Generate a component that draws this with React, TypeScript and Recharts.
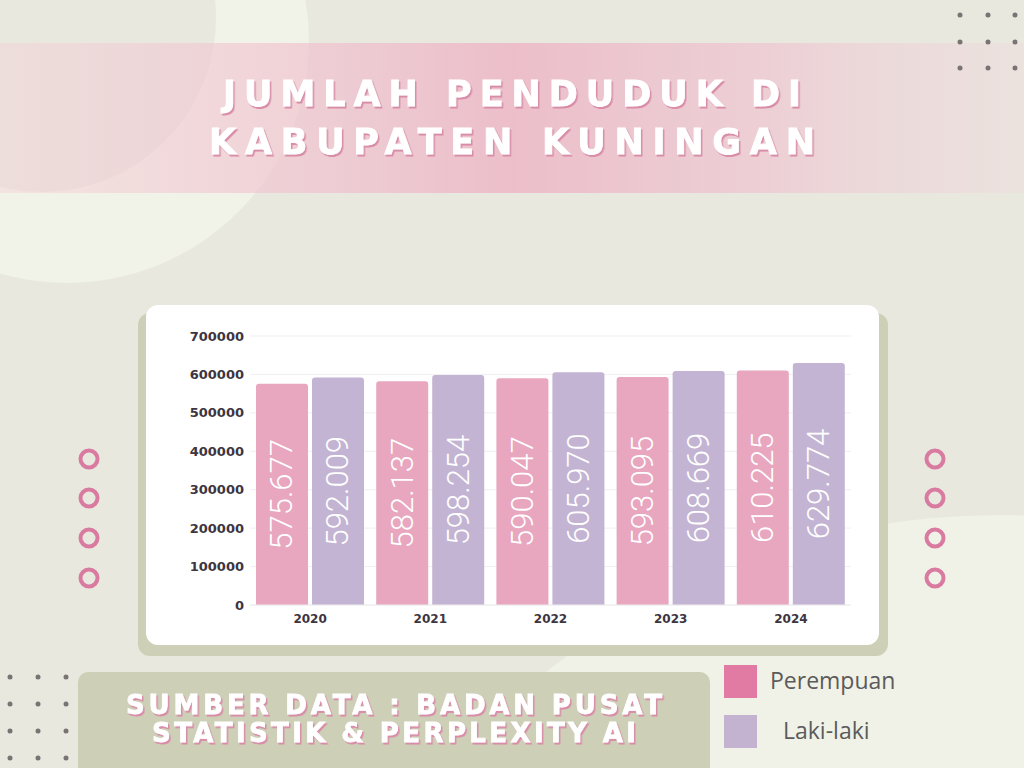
import { BarChart, Bar, XAxis, YAxis, CartesianGrid, LabelList } from 'recharts'

const years = ['2020', '2021', '2022', '2023', '2024']
const perempuan = [575677, 582137, 590047, 593095, 610225]
const lakiLaki = [592009, 598254, 605970, 608669, 629774]
const yTicks = [0, 100000, 200000, 300000, 400000, 500000, 600000, 700000]

const PINK = '#e8a6bf'
const PURPLE = '#c4b4d3'

const data = years.map((y, i) => ({ year: y, perempuan: perempuan[i], laki: lakiLaki[i] }))

const series = [
  { key: 'perempuan', name: 'Perempuan', fill: PINK, legend: '#e27ba4' },
  { key: 'laki', name: 'Laki-laki', fill: PURPLE, legend: '#c3b3d1' },
]

function fmtID(n: number) {
  return new Intl.NumberFormat('id-ID').format(n)
}

function VLabel(props: any) {
  const { x, y, width, height, value } = props
  const cx = x + width / 2
  const cy = y + height / 2
  return (
    <text
      x={cx}
      y={cy}
      fill="#fff"
      textAnchor="middle"
      dominantBaseline="central"
      transform={`rotate(-90 ${cx} ${cy})`}
      style={{ fontFamily: 'Roboto, sans-serif', fontWeight: 300, fontSize: 31 }}
    >
      {fmtID(value)}
    </text>
  )
}

const dotXs = [960, 988, 1015]
const dotYs = [15, 42, 68]
const dot2Xs = [10, 38, 66]
const dot2Ys = [677, 704, 731, 758]
const ringYs = [459, 498, 538, 578]

function ShadowText({ x, y, len, size, children }: any) {
  return (
    <text
      x={x}
      y={y}
      fill="#ffffff"
      stroke="#ffffff"
      strokeWidth={0.8}
      textAnchor="middle"
      textLength={len}
      lengthAdjust="spacing"
      filter="url(#pinkShadow)"
      style={{ fontFamily: 'DejaVu Sans, sans-serif', fontWeight: 700, fontSize: size }}
    >
      {children}
    </text>
  )
}

export default function App() {
  return (
    <div style={{ position: 'absolute', left: 0, top: 0, width: 1024, height: 768, overflow: 'hidden', background: '#e8e8df' }}>
      <svg width={1024} height={768} style={{ position: 'absolute', left: 0, top: 0 }}>
        <defs>
          <linearGradient id="band" x1="0" x2="1" y1="0" y2="0">
            <stop offset="0" stopColor="#f5c9d3" stopOpacity={0.35} />
            <stop offset="0.3" stopColor="#f0c3cf" stopOpacity={0.7} />
            <stop offset="0.5" stopColor="#ecbcc9" stopOpacity={0.95} />
            <stop offset="0.75" stopColor="#eec7d1" stopOpacity={0.75} />
            <stop offset="1" stopColor="#f0d6db" stopOpacity={0.35} />
          </linearGradient>
          <filter id="pinkShadow" x="-5%" y="-20%" width="110%" height="150%">
            <feDropShadow dx={1.5} dy={2} stdDeviation={0.3} floodColor="#d98ca8" floodOpacity={1} />
          </filter>
        </defs>
        <circle cx={67} cy={41} r={242} fill="#f1f2e8" />
        <circle cx={42} cy={18} r={174} fill="#e8e8df" />
        <circle cx={1000} cy={1250} r={735} fill="#f1f2e7" />
        <rect x={0} y={43} width={1024} height={150} fill="url(#band)" />
        {dotYs.map((y) => dotXs.map((x) => <circle key={`a${x}-${y}`} cx={x} cy={y} r={2.5} fill="#7a7373" />))}
        {dot2Ys.map((y) => dot2Xs.map((x) => <circle key={`b${x}-${y}`} cx={x} cy={y} r={2.5} fill="#7a7373" />))}
        {ringYs.map((y) => (
          <g key={y}>
            <circle cx={89} cy={y} r={8.5} fill="none" stroke="#d97aa0" strokeWidth={4} />
            <circle cx={935} cy={y} r={8.5} fill="none" stroke="#d97aa0" strokeWidth={4} />
          </g>
        ))}
        <ShadowText x={512} y={106} len={578} size={35}>JUMLAH PENDUDUK DI</ShadowText>
        <ShadowText x={512} y={154} len={606} size={35}>KABUPATEN KUNINGAN</ShadowText>
        <rect x={78} y={672} width={632} height={120} rx={10} fill="#cdcfb6" />
        <ShadowText x={394} y={714} len={536} size={26}>SUMBER DATA : BADAN PUSAT</ShadowText>
        <ShadowText x={394} y={742} len={484} size={26}>STATISTIK &amp; PERPLEXITY AI</ShadowText>
      </svg>

      <div style={{ position: 'absolute', left: 138, top: 313, width: 750, height: 343, borderRadius: 12, background: '#cdcfb6' }} />
      <div style={{ position: 'absolute', left: 146, top: 305, width: 733, height: 340, borderRadius: 12, background: '#ffffff' }}>
        <BarChart width={733} height={340} data={data} margin={{ top: 31, right: 28, left: 0, bottom: 10 }} barGap={4} barCategoryGap="5%">
          <CartesianGrid vertical={false} stroke="#efefef" />
          <XAxis
            dataKey="year"
            height={30}
            axisLine={{ stroke: '#eeeeee' }}
            tickLine={false}
            tickSize={0}
            tickMargin={9}
            tick={{ fontSize: 12, fontWeight: 700, fontFamily: 'DejaVu Sans, sans-serif', fill: '#3d3540' }}
          />
          <YAxis
            width={104}
            domain={[0, 700000]}
            ticks={yTicks}
            axisLine={false}
            tickLine={false}
            tickSize={0}
            tickMargin={6}
            tick={{ fontSize: 13, fontWeight: 700, fontFamily: 'DejaVu Sans, sans-serif', fill: '#3d3540' }}
          />
          {series.map((s) => (
            <Bar key={s.key} dataKey={s.key} name={s.name} fill={s.fill} radius={[3, 3, 0, 0]} isAnimationActive={false}>
              <LabelList dataKey={s.key} content={VLabel} />
            </Bar>
          ))}
        </BarChart>
      </div>

      {series.map((s, i) => (
        <div key={s.key} style={{ position: 'absolute', left: 724, top: 665 + i * 50, height: 33, display: 'flex', alignItems: 'center' }}>
          <div style={{ width: 33, height: 33, background: s.legend }} />
          <span style={{ marginLeft: i === 0 ? 13 : 26, marginTop: -4, fontFamily: 'Open Sans, sans-serif', fontSize: 23, color: '#5b5b5b' }}>{s.name}</span>
        </div>
      ))}
    </div>
  )
}
